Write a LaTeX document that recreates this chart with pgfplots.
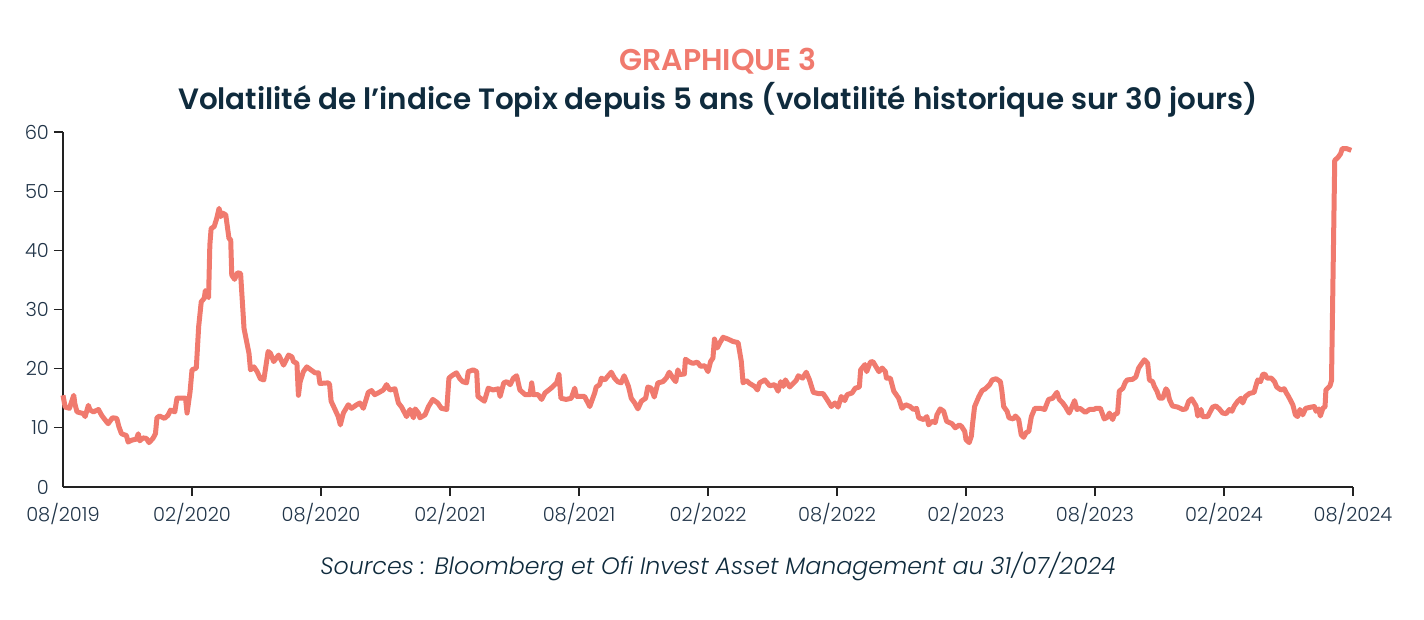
\documentclass[border=0pt]{standalone}
\usepackage{fontspec}
\setmainfont{Poppins}[UprightFont={* Light}, ItalicFont={* Light Italic}, BoldFont={* SemiBold}]
\usepackage{pgfplots}
\pgfplotsset{compat=1.18}
\definecolor{salmon}{HTML}{F07A6E}
\definecolor{navy}{HTML}{0F2B3D}
\definecolor{ticktxt}{HTML}{203448}
\definecolor{axline}{HTML}{222222}
\begin{document}
\begin{tikzpicture}
\path[use as bounding box] (0,0) rectangle (712pt,310pt);
\node[font=\bfseries\fontsize{15}{17}\selectfont, text=salmon] at (359pt,279.5pt) {GRAPHIQUE 3};
\node[font=\bfseries\fontsize{14.7}{17}\selectfont, text=navy] at (359pt,260pt) {Volatilité de l’indice Topix depuis 5 ans (volatilité historique sur 30 jours)};
\node[font=\itshape\fontsize{11.85}{13}\selectfont, text=navy] at (359pt,26.5pt) {Sources : Bloomberg et Ofi Invest Asset Management au 31/07/2024};
\begin{axis}[
  at={(31.5pt,66.5pt)}, anchor=south west,
  scale only axis, width=645pt, height=177.5pt,
  xmin=0, xmax=60, ymin=0, ymax=60,
  axis x line*=bottom, axis y line*=left,
  axis line style={-, draw=axline, line width=0.6pt},
  tick style={draw=axline, line width=0.6pt},
  tick align=outside, major tick length=4.5pt,
  xtick={6,12,...,60},
  xticklabels={02/2020,08/2020,02/2021,08/2021,02/2022,08/2022,02/2023,08/2023,02/2024,08/2024},
  extra x ticks={0}, extra x tick labels={08/2019},
  extra x tick style={major tick length=0pt, xticklabel style={yshift=-4.5pt}},
  ytick={10,20,...,60},
  extra y ticks={0}, extra y tick labels={0},
  extra y tick style={major tick length=0pt, yticklabel style={xshift=-4.5pt}},
  ticklabel style={font=\fontsize{9.7}{12}\selectfont, text=ticktxt},
  yticklabel style={xshift=1pt},
  /pgf/number format/assume math mode=true,
  clip=false,
]
\addplot[salmon, line width=2.5pt, line join=round] coordinates {
(0,15.5)(0.1,13.5)(0.3,13.3)(0.4,14.4)(0.5,15.5)(0.55,14.1)(0.65,12.7)(0.95,12.4)(1.03,11.9)(1.18,13.8)(1.26,13)(1.42,12.7)(1.65,13.1)(1.8,12.1)(2.03,11)(2.1,10.7)(2.3,11.7)(2.5,11.6)(2.6,10.2)(2.72,9.0)(2.95,8.7)(3.03,7.6)(3.18,7.9)(3.42,8.1)(3.5,9.0)(3.57,7.8)(3.72,8.3)(3.88,8.2)(4.0,7.5)(4.18,8.2)(4.3,9.0)(4.37,11.7)(4.49,12)(4.72,11.6)(4.88,12.1)(5.0,13)(5.2,12.7)(5.3,15)(5.7,15)(5.77,12.5)(5.91,16.1)(6.0,19.8)(6.2,20.1)(6.31,27.1)(6.43,31.3)(6.57,31.9)(6.62,33.2)(6.77,32)(6.83,40.9)(6.89,43.7)(7.03,44)(7.15,45.4)(7.26,47.1)(7.34,45.7)(7.42,46.3)(7.57,46)(7.72,42)(7.8,41.8)(7.85,35.8)(7.98,35.1)(8.11,36.2)(8.26,36.1)(8.42,26.8)(8.65,22.6)(8.72,19.8)(8.88,20.3)(9.03,19.5)(9.18,18.3)(9.34,18.1)(9.54,22.9)(9.65,22.6)(9.8,21.2)(10.03,22.3)(10.26,20.6)(10.49,22.3)(10.65,22)(10.72,21.2)(10.88,20.9)(10.95,15.5)(11.03,17.8)(11.18,19.5)(11.34,20.3)(11.49,19.9)(11.72,19.3)(11.88,19.3)(11.95,17.5)(12.34,17.6)(12.4,17.3)(12.47,14.5)(12.65,13.1)(12.8,11.9)(12.9,10.5)(13.04,12.5)(13.27,13.9)(13.42,13.3)(13.66,13.9)(13.81,14.2)(13.97,13.3)(14.2,16)(14.35,16.3)(14.5,15.6)(14.66,15.9)(14.9,16.4)(15.05,17.3)(15.2,16.4)(15.44,16.6)(15.6,14.2)(15.75,13.5)(15.98,11.9)(16.14,13.1)(16.3,11.7)(16.38,13.2)(16.53,12.5)(16.6,11.7)(16.84,12.2)(17.0,13.6)(17.2,14.8)(17.43,14.2)(17.6,13.3)(17.85,13.1)(17.95,18.4)(18.08,18.8)(18.3,19.3)(18.46,18.3)(18.6,17.8)(18.77,17.6)(18.85,19.5)(19.08,19.8)(19.24,19.5)(19.3,15.3)(19.6,14.5)(19.78,16.7)(20.0,16.4)(20.25,16.6)(20.33,15.3)(20.5,17.6)(20.64,17.8)(20.8,17.3)(20.95,18.4)(21.1,18.8)(21.25,16.4)(21.5,15.6)(21.72,15.6)(21.8,17.6)(21.88,15.6)(22.1,15.6)(22.26,14.8)(22.42,15.9)(22.7,16.7)(22.96,17.6)(23.07,19)(23.16,15)(23.4,14.8)(23.64,15)(23.8,16.7)(23.88,15.3)(24.1,15.3)(24.26,15.3)(24.5,13.6)(24.73,15.9)(24.8,16.9)(24.96,17.3)(25.04,18.4)(25.2,18.1)(25.5,19.4)(25.65,18.4)(25.8,17.8)(25.96,17.6)(26.1,18.8)(26.3,17)(26.43,15)(26.59,14.2)(26.74,13.2)(26.9,14.5)(27.1,15)(27.2,16.9)(27.36,16.7)(27.5,15.2)(27.67,17.6)(27.9,17.8)(28.06,18.4)(28.2,19.4)(28.37,18.4)(28.5,17.8)(28.6,19.8)(28.68,19)(28.9,19.1)(28.95,21.6)(29.15,21.1)(29.3,20.9)(29.5,21.1)(29.66,20.4)(29.85,20.5)(30.0,19.5)(30.12,21.2)(30.23,21.8)(30.3,25)(30.43,23.5)(30.54,24.3)(30.7,25.3)(30.93,25)(31.16,24.6)(31.4,24.4)(31.55,21.2)(31.63,17.6)(31.78,18)(31.94,17.5)(32.17,17)(32.3,16.4)(32.4,17.6)(32.64,18.1)(32.87,17.1)(33.1,17.3)(33.26,16.2)(33.38,17.8)(33.5,17)(33.6,18.1)(33.8,16.9)(34.1,18)(34.2,18.8)(34.4,18.4)(34.57,19.4)(34.72,18.1)(34.9,16)(35.12,15.8)(35.35,15.8)(35.5,15)(35.74,13.6)(35.9,14.2)(36.05,13.5)(36.2,15.3)(36.36,14.6)(36.47,15.6)(36.7,15.9)(36.85,16.7)(37.04,16.9)(37.1,19.8)(37.3,20.7)(37.38,19.5)(37.55,21.1)(37.67,21.2)(37.8,20.4)(37.95,19.5)(38.1,20.1)(38.25,19.5)(38.3,18.4)(38.48,18.4)(38.64,16.2)(38.87,15)(39.02,13.3)(39.2,13.9)(39.4,13.6)(39.56,13.1)(39.7,13.3)(39.8,11.7)(40.03,11.4)(40.18,11.9)(40.26,10.5)(40.42,11.1)(40.57,10.9)(40.65,12.2)(40.8,13.2)(40.96,12.8)(41.1,11.1)(41.35,10.7)(41.5,10)(41.69,10.5)(41.8,10.2)(41.94,9.4)(42.0,8)(42.15,7.5)(42.25,8.6)(42.3,10.5)(42.4,13.6)(42.6,15.3)(42.75,16.3)(42.9,16.6)(43.1,17.3)(43.22,18.1)(43.4,18.3)(43.6,17.8)(43.67,16.2)(43.75,13.6)(43.91,12.8)(44.0,11.7)(44.2,11.5)(44.3,12)(44.45,11.4)(44.57,8.8)(44.68,8.4)(44.8,9.2)(44.92,9.4)(45.04,11.9)(45.2,13.3)(45.46,13.3)(45.66,13.1)(45.72,13.7)(45.84,14.8)(46.03,15)(46.23,16)(46.34,14.8)(46.5,14.2)(46.62,13.6)(46.8,12.5)(46.9,13.3)(47.05,14.6)(47.16,13.1)(47.3,13.3)(47.55,12.6)(47.74,13.1)(47.94,13.1)(48.05,13.3)(48.25,13.3)(48.43,11.5)(48.58,11.8)(48.67,12.5)(48.82,11.4)(48.9,12.2)(49.05,12.5)(49.13,16.2)(49.3,16.7)(49.41,17.7)(49.5,18.1)(49.75,18.2)(49.9,18.6)(50.03,20.1)(50.14,20.7)(50.3,21.5)(50.45,20.9)(50.53,18.1)(50.68,17.8)(50.76,17)(50.88,16.2)(51.0,15)(51.15,15)(51.3,16.6)(51.38,16.2)(51.46,14.8)(51.6,13.7)(51.85,13.5)(52.08,13.1)(52.23,13.2)(52.36,14.5)(52.5,14.9)(52.7,13.7)(52.78,12)(52.93,13.1)(53.0,11.9)(53.24,11.9)(53.47,13.5)(53.62,13.7)(53.78,13.2)(53.94,12.5)(54.1,12.4)(54.25,13.1)(54.37,12.8)(54.48,13.7)(54.64,14.5)(54.79,15)(54.87,14.2)(55.0,15.3)(55.18,15.8)(55.4,16)(55.5,17.3)(55.57,18.1)(55.7,17.8)(55.8,19)(55.9,19.1)(56.0,18.4)(56.2,18.4)(56.35,17.8)(56.45,16.9)(56.65,16.4)(56.8,16.6)(56.9,15.9)(57.0,15.3)(57.2,13.9)(57.32,12.2)(57.42,11.9)(57.53,13.1)(57.66,12.2)(57.8,13.3)(58.05,13.5)(58.2,13.6)(58.28,12.8)(58.4,13.2)(58.48,12)(58.6,13.3)(58.7,13.6)(58.74,16.4)(58.93,17.1)(59.0,18)(59.15,55.2)(59.3,55.7)(59.42,56.3)(59.5,57.2)(59.7,57.2)(59.92,56.9)
};
\end{axis}
\end{tikzpicture}
\end{document}
